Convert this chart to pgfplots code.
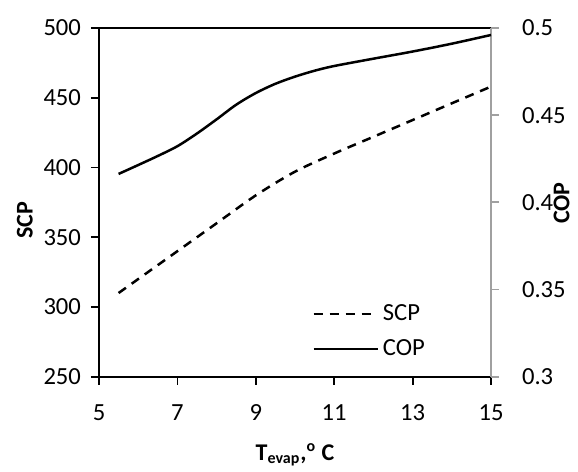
\documentclass[border=0pt]{standalone}
\usepackage{pgfplots}
\pgfplotsset{compat=1.18}
\usepackage{fontspec}
\setmainfont{Carlito}

\definecolor{axgray}{RGB}{160,160,160}

\pgfplotstableread{
x     scp
5.5   310
6     320
7     340
8     360
9     380
10    397
11    410
12    422
13    434
14    446
15    458
}\scpdata

\pgfplotstableread{
x     cop
5.5   0.4163
6     0.4214
6.5   0.4266
7     0.4322
7.5   0.4395
8     0.4476
8.5   0.4560
9     0.4627
9.5   0.4680
10    0.4721
10.5  0.4755
11    0.4782
12    0.4824
13    0.4865
14    0.4910
15    0.4960
}\copdata

\pgfplotsset{
  common/.style={
    at={(49.5pt,47.15pt)}, anchor=south west,
    scale only axis, width=196pt, height=174.35pt,
    xmin=5, xmax=15,
    tick align=outside, major tick length=4pt,
    every tick/.style={line width=0.9pt},
    tick label style={font=\fontsize{12.3}{14.8}\selectfont},
    label style={font=\fontsize{12}{14.4}\selectfont\bfseries},
    /pgf/number format/assume math mode=true,
  },
  scpline/.style={black, line width=1.25pt, dash pattern=on 4.5pt off 3.5pt},
  copline/.style={black, line width=1.25pt},
}

\begin{document}
\begin{tikzpicture}
\path[use as bounding box] (0,0) rectangle (289pt,235.5pt);

% left axis: SCP
\begin{axis}[common,
  axis x line*=bottom, axis y line*=left,
  axis line style={line width=1.1pt, black},
  ymin=250, ymax=500,
  xtick={5,7,...,15}, ytick={250,300,...,500},
  yticklabel style={xshift=-1.5pt},
  xticklabel style={yshift=-6.5pt},
  ylabel={SCP},
  ylabel style={at={(axis description cs:-0.189,0.449)}, anchor=center},
  xlabel={T\textsubscript{evap},\textsuperscript{o} C},
  xlabel style={at={(axis description cs:0.5,-0.239)}, anchor=base},
]
\addplot[scpline, smooth] table[x=x, y=scp] {\scpdata};
\end{axis}

% right axis: COP
\begin{axis}[common,
  axis x line*=top, axis y line*=right,
  x axis line style={line width=1pt, black},
  y axis line style={line width=0.9pt, axgray},
  xtick=\empty,
  ymin=0.3, ymax=0.5,
  ytick={0.3,0.35,0.4,0.45,0.5},
  y tick style={axgray},
  yticklabel style={xshift=8pt},
  ylabel={COP},
  ylabel style={at={(axis description cs:1.180,0.498)}, anchor=center},
  legend style={draw=none, fill=none, at={(axis description cs:0.528,0.130)},
    anchor=west, font=\fontsize{12.3}{14.8}\selectfont, row sep=4pt},
  legend cell align=left,
  legend image code/.code={\draw[#1] (0pt,0pt) -- (32pt,0pt);},
]
\addlegendimage{scpline}
\addlegendentry{SCP}
\addplot[copline, smooth] table[x=x, y=cop] {\copdata};
\addlegendentry{COP}
\end{axis}
\end{tikzpicture}
\end{document}
